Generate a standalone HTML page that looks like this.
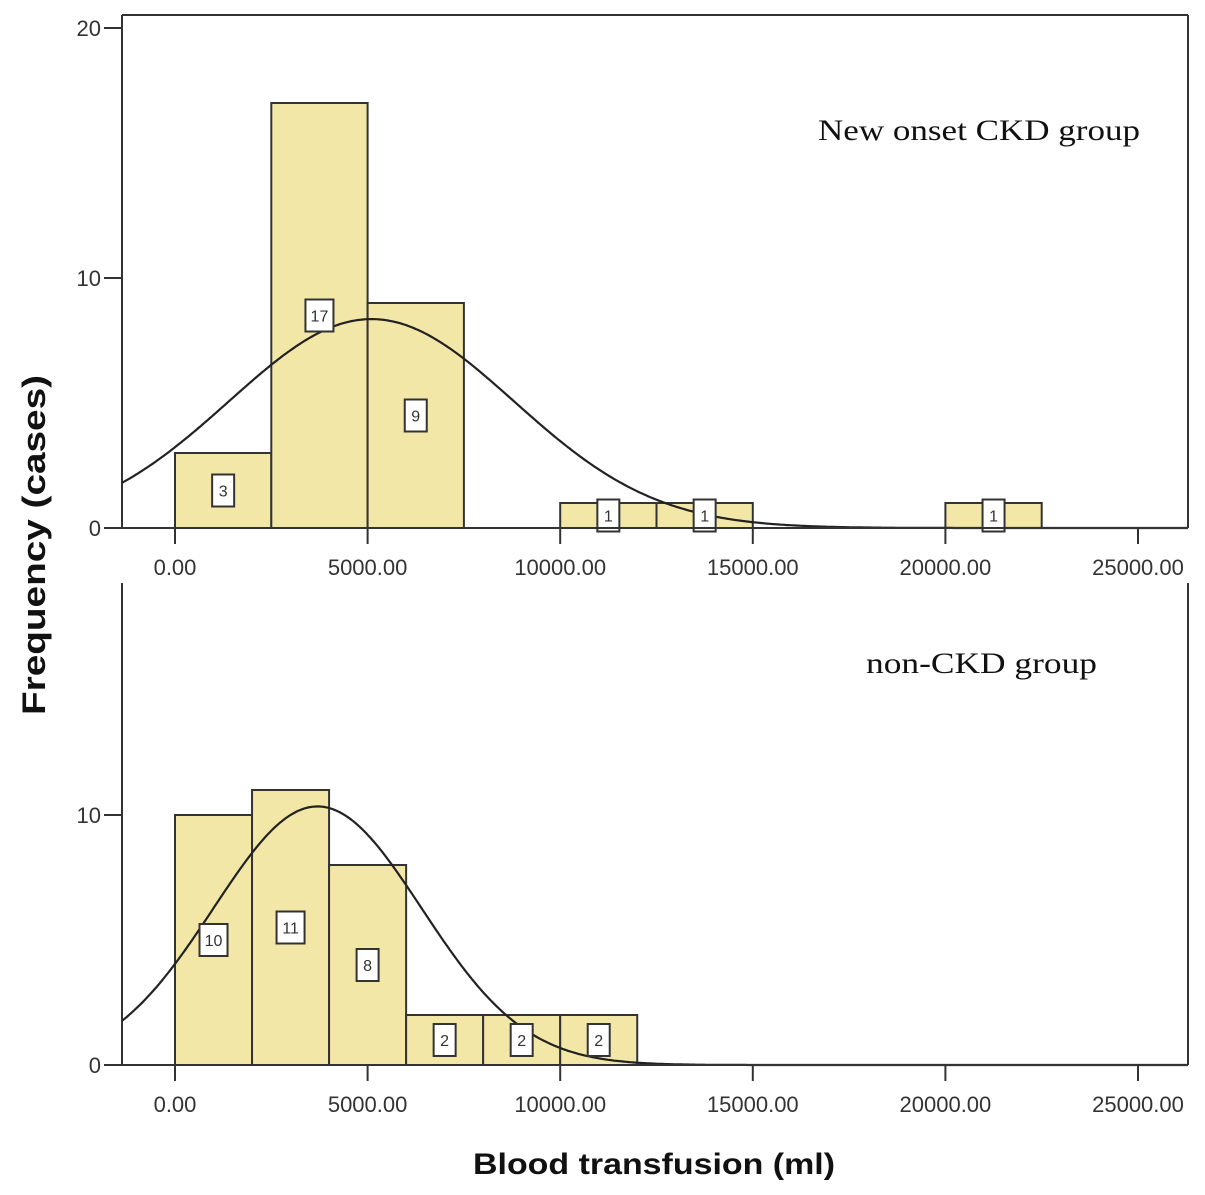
<!DOCTYPE html>
<html><head><meta charset="utf-8"><style>
body{margin:0;background:#fff}
svg{display:block}
text{font-family:"Liberation Sans",sans-serif}
</style></head><body>
<svg id="c" width="1205" height="1195" xmlns="http://www.w3.org/2000/svg"></svg>
<script>
const topBinStarts=[0,2500,5000,10000,12500,20000];
const topCounts=[3,17,9,1,1,1];
const topBinWidth=2500;
const topMean=5100, topSd=3700, topN=31;
const botBinStarts=[0,2000,4000,6000,8000,10000];
const botCounts=[10,11,8,2,2,2];
const botBinWidth=2000;
const botMean=3700, botSd=2700, botN=35;
const xTicks=[0,5000,10000,15000,20000,25000];
const xTickLabels=["0.00","5000.00","10000.00","15000.00","20000.00","25000.00"];
const topYTicks=[0,10,20];
const botYTicks=[0,10];

const NS="http://www.w3.org/2000/svg";
const svg=document.getElementById('c');
function el(t,a,p){const e=document.createElementNS(NS,t);for(const k in a)e.setAttribute(k,a[k]);(p||svg).appendChild(e);return e;}
const xs=v=>175+v*(192.6/5000);
const L=122,R=1188;

function panel(name,y0,topY,boxTop,starts,counts,bw,mean,sd,n,yticks,title,tx,ty,tlen){
  const g=el('g',{});
  
  
  const ys=v=>y0-v*25;
  if(boxTop){const f=el('line',{x1:L,y1:topY,x2:R,y2:topY,stroke:'#333','stroke-width':2},g);}
  const la=el('line',{x1:L,y1:topY,x2:L,y2:y0,stroke:'#333','stroke-width':2},g);
  
  const ra=el('line',{x1:R,y1:topY,x2:R,y2:y0,stroke:'#333','stroke-width':2},g);
  
  starts.forEach((s,i)=>{
    const r=el('rect',{x:xs(s),y:ys(counts[i]),width:xs(s+bw)-xs(s),height:y0-ys(counts[i]),fill:'#f3e7a8',stroke:'#333','stroke-width':2},g);
    
  });
  let d='';
  for(let px=L;px<=R;px+=2){const v=(px-175)*5000/192.6;const yv=n*bw/(sd*Math.sqrt(2*Math.PI))*Math.exp(-((v-mean)**2)/(2*sd*sd));d+=(d?'L':'M')+px+','+ys(yv).toFixed(1);}
  const c=el('path',{d:d,fill:'none',stroke:'#222','stroke-width':2.2},g);
  
  starts.forEach((s,i)=>{
    const cx=xs(s+bw/2),cy=ys(counts[i]/2);const w=String(counts[i]).length>1?28:22;
    const b=el('rect',{x:cx-w/2,y:cy-16,width:w,height:32,fill:'#fff',stroke:'#333','stroke-width':2},g);
    
    const t=el('text',{x:cx,y:cy+6,'font-size':16,'text-anchor':'middle',fill:'#333'},g);t.textContent=counts[i];
    
  });
  const xa=el('line',{x1:L,y1:y0,x2:R,y2:y0,stroke:'#333','stroke-width':2},g);
  
  xTicks.forEach((v,i)=>{
    el('line',{x1:xs(v),y1:y0,x2:xs(v),y2:y0+16,stroke:'#333','stroke-width':2},g);
    const t=el('text',{x:xs(v),y:y0+47,'font-size':22,'text-anchor':'middle',fill:'#333'},g);t.textContent=xTickLabels[i];
    
  });
  yticks.forEach(v=>{
    el('line',{x1:L-18,y1:ys(v),x2:L,y2:ys(v),stroke:'#333','stroke-width':2},g);
    const t=el('text',{x:L-21,y:ys(v)+8,'font-size':22,'text-anchor':'end',fill:'#333'},g);t.textContent=v;
    
  });
  const tt=el('text',{x:tx,y:ty,'font-size':30,fill:'#111',textLength:tlen,lengthAdjust:'spacingAndGlyphs',style:'font-family:"Liberation Serif",serif'},g);tt.textContent=title;
  
}
panel('new-onset-ckd',528,15,true,topBinStarts,topCounts,topBinWidth,topMean,topSd,topN,topYTicks,'New onset CKD group',818,140,322);
panel('non-ckd',1065,583,false,botBinStarts,botCounts,botBinWidth,botMean,botSd,botN,botYTicks,'non-CKD group',866,673,231);

const yt=el('text',{x:0,y:0,'font-size':32,'font-weight':'bold','text-anchor':'middle',fill:'#111',textLength:340,lengthAdjust:'spacingAndGlyphs',transform:'translate(45,545) rotate(-90)'});
yt.textContent='Frequency (cases)';

const xt=el('text',{x:654,y:1174,'font-size':30,'font-weight':'bold','text-anchor':'middle',fill:'#111',textLength:362,lengthAdjust:'spacingAndGlyphs'});
xt.textContent='Blood transfusion (ml)';

</script>
</body></html>
